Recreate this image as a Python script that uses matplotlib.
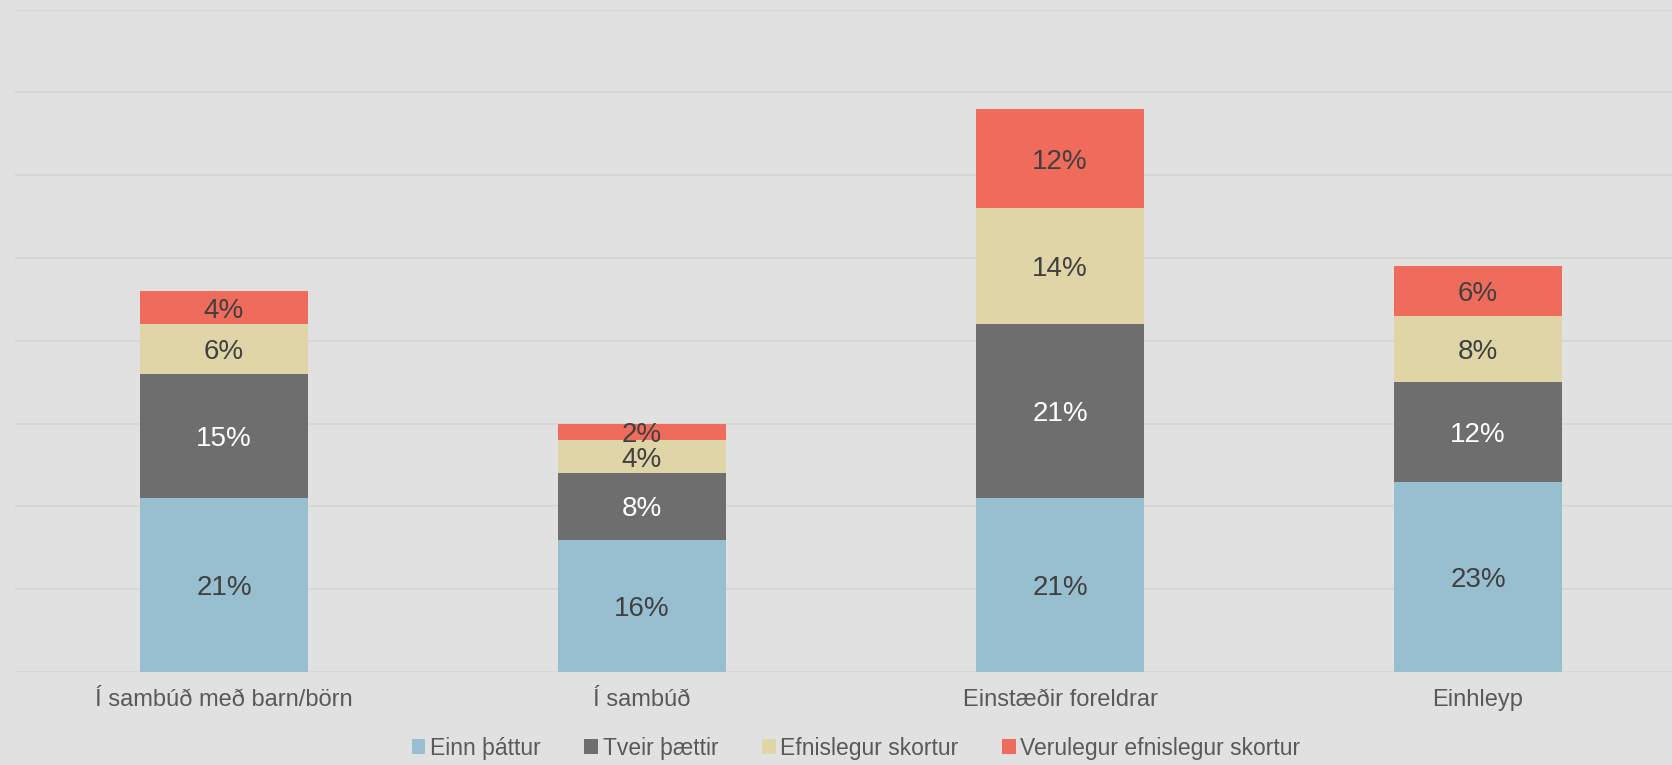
import matplotlib.pyplot as plt
import numpy as np

categories = ['Í sambúð með barn/börn', 'Í sambúð', 'Einstæðir foreldrar', 'Einhleyp']
series_names = ['Einn þáttur', 'Tveir þættir', 'Efnislegur skortur', 'Verulegur efnislegur skortur']
einn = [21, 16, 21, 23]
tveir = [15, 8, 21, 12]
efnislegur = [6, 4, 14, 8]
verulegur = [4, 2, 12, 6]

colors = ['#97BFD0', '#6E6E6E', '#DFD5A6', '#EF6B5B']
label_colors = ['#404040', 'white', '#404040', '#404040']
bg = '#E1E1E1'

plt.rcParams['font.family'] = ['Liberation Sans', 'DejaVu Sans']

fig = plt.figure(figsize=(16.72, 7.65), dpi=100, facecolor=bg)
# axes runs a little past the right edge, like the original
ax = fig.add_axes([15 / 1672, 1 - 672 / 765, 1.0, (672 - 9.5) / 765])
ax.set_facecolor(bg)

x = np.arange(len(categories))
bottom = np.zeros(len(categories))
for vals, name, col, lc in zip([einn, tveir, efnislegur, verulegur], series_names, colors, label_colors):
    vals = np.array(vals, dtype=float)
    ax.bar(x, vals, width=0.4, bottom=bottom, color=col, label=name, zorder=3)
    for xi, b, v in zip(x, bottom, vals):
        ax.text(xi, b + v / 2, f'{v:.0f}%', ha='center', va='center_baseline',
                fontsize=20, color=lc, zorder=4)
    bottom += vals

ax.set_xlim(-0.5, 3.5)
ax.set_ylim(0, 80)
ax.set_yticks(np.arange(0, 81, 10))
ax.yaxis.grid(True, color='#D4D4D4', linewidth=1.2, zorder=0)
ax.tick_params(axis='y', left=False, labelleft=False)
ax.tick_params(axis='x', length=0, pad=12, labelsize=17, labelcolor='#595959')
ax.set_xticks(x)
ax.set_xticklabels(categories)
for s in ax.spines.values():
    s.set_visible(False)

leg = fig.legend(*ax.get_legend_handles_labels(), loc='center',
                 bbox_to_anchor=(856 / 1672, 1 - 748 / 765), ncol=4, frameon=False,
                 fontsize=16.5, handlelength=0.6, handleheight=0.6, handletextpad=0.2,
                 columnspacing=1.9)
for t in leg.get_texts():
    t.set_color('#595959')

fig.savefig('out.png', dpi=100, facecolor=bg)
